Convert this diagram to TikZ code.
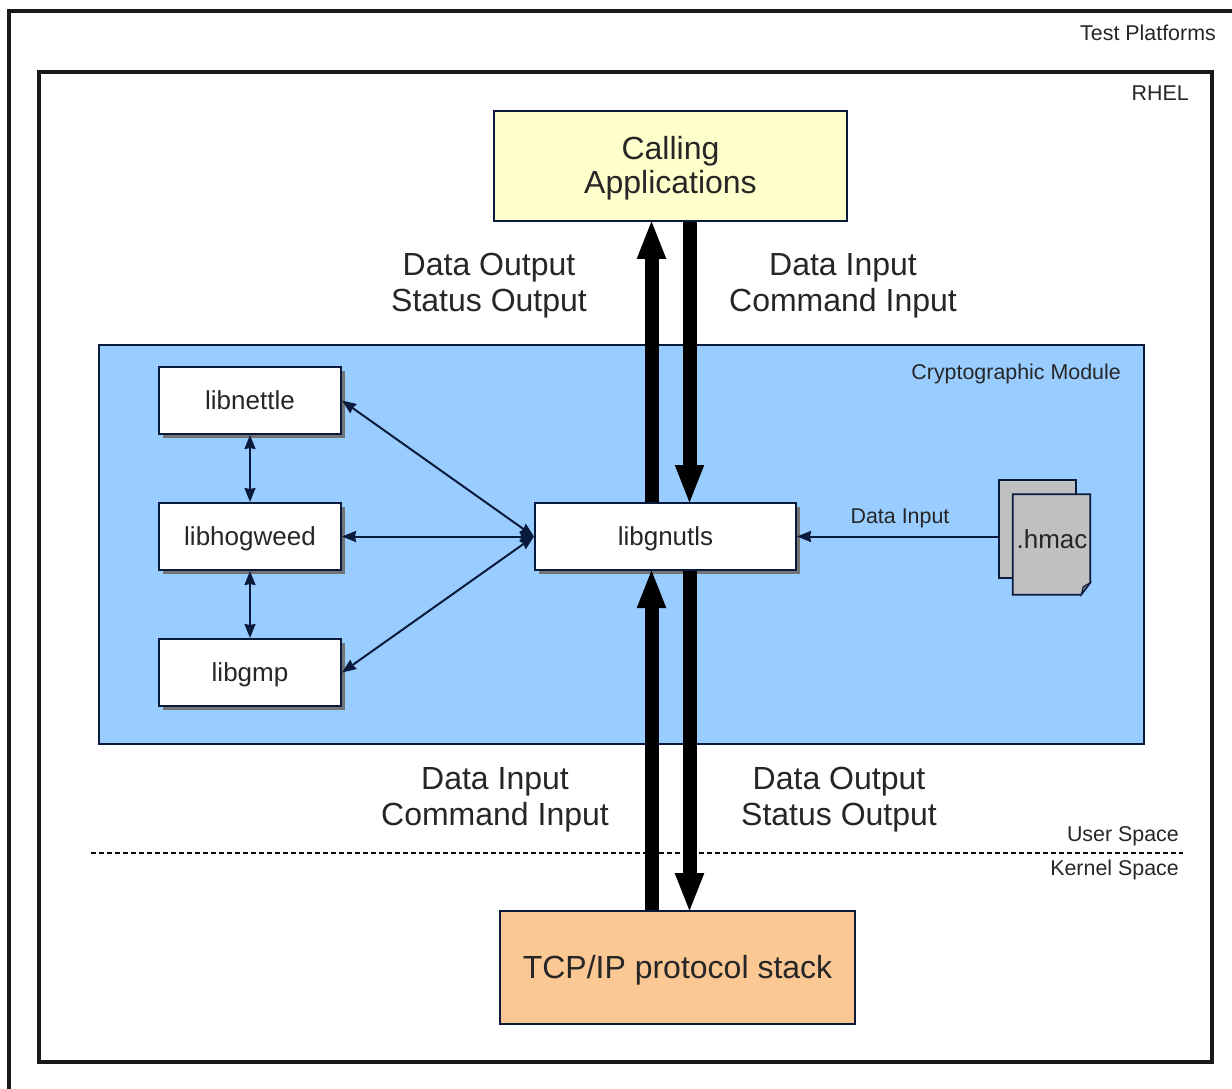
\documentclass[tikz,border=0pt]{standalone}
\usepackage{fontspec}
\setmainfont{Liberation Sans}
\usetikzlibrary{arrows.meta,shadows,calc}
\definecolor{inktext}{HTML}{262626}
\definecolor{navyline}{HTML}{0A1A3C}
\definecolor{modblue}{HTML}{99CCFF}
\definecolor{callyellow}{HTML}{FFFFCC}
\definecolor{tcporange}{HTML}{FBC792}
\definecolor{pagegray}{HTML}{C0C0C0}
\tikzset{
  frame/.style={draw=black!90,line width=4.5pt},
  bigtext/.style={font=\fontsize{32}{36}\selectfont,text=inktext,align=center,inner sep=0pt},
  smalltext/.style={font=\fontsize{21.4}{25}\selectfont,text=inktext,inner sep=0pt},
  libbox/.style={draw=navyline,line width=2pt,fill=white,inner sep=0pt,
    font=\fontsize{26}{30}\selectfont,text=inktext,minimum height=67pt,
    text height=23pt,text depth=5.5pt,
    drop shadow={shadow xshift=4pt,shadow yshift=-4pt,fill=black!55,opacity=1}},
  mainbox/.style={draw=navyline,line width=1.6pt,inner sep=0pt,align=center,
    font=\fontsize{32}{34}\selectfont,text=inktext},
  bigarrow/.style={line width=14pt,black,shorten >=-3pt,-{Triangle[length=40pt,width=26pt]}},
  thinarrow/.style={line width=2pt,navyline,{Stealth[length=14pt,width=11pt,inset=1pt]}-{Stealth[length=14pt,width=11pt,inset=1pt]}},
  onearrow/.style={line width=2pt,navyline,-{Stealth[length=14pt,width=11pt,inset=1pt]}},
  docpage/.style={draw=none,fill=none,inner sep=0pt,minimum width=77pt},
}
\begin{document}
\begin{tikzpicture}[x=1pt,y=-1pt]
\useasboundingbox (0,0) rectangle (1232,1089);
\fill[white] (0,0) rectangle (1232,1089);
% frames
\draw[frame] (1232,11) -| (9,1089);
\node[frame,fill=none,minimum width=1173pt,minimum height=990pt,inner sep=0pt,outer sep=0pt] (rhel) at (625.5,567) {};
\node[smalltext,anchor=east] (testplat) at (1216,33) {Test Platforms};
\node[smalltext,anchor=east] (rheltext) at (1189,93) {RHEL};
% module
\node[draw=navyline,line width=1.6pt,fill=modblue,minimum width=1045pt,minimum height=399pt,inner sep=0pt] (module) at (621.5,544.5) {};
\node[smalltext,anchor=east] (modtext) at (1121,374) {Cryptographic Module};
% main boxes
\node[mainbox,fill=callyellow,minimum width=353pt,minimum height=110pt] (calling) at (670.5,166) {\rule{0pt}{28pt}Calling\\Applications};
\node[mainbox,fill=tcporange,minimum width=355pt,minimum height=113pt] (tcp) at (677.5,967.5) {\rule{0pt}{29.5pt}TCP/IP protocol stack};
% libraries
\node[libbox,minimum width=182pt] (libnettle) at (250,400.5) {libnettle};
\node[libbox,minimum width=182pt] (libhogweed) at (250,536.5) {libhogweed};
\node[libbox,minimum width=182pt] (libgmp) at (250,672.5) {libgmp};
\node[libbox,minimum width=261pt] (libgnutls) at (665.5,536.5) {libgnutls};
% hmac files
\node[docpage,minimum height=98pt] (hmacback) at (1037.5,529) {};
\fill[pagegray,draw=navyline,line width=1.8pt] (hmacback.north west) rectangle (hmacback.south east);
\node[docpage,minimum height=100pt] (hmacfront) at (1051.5,544.5) {};
\fill[pagegray,draw=navyline,line width=1.8pt] (hmacfront.north west) -- (hmacfront.north east) -- ($(hmacfront.south east)+(0,-12)$) -- ($(hmacfront.south east)+(-9,0)$) -- (hmacfront.south west) -- cycle;
\fill[black!55,draw=navyline,line width=1pt] ($(hmacfront.south east)+(0,-12)$) -- ($(hmacfront.south east)+(-9,0)$) -- ($(hmacfront.south east)+(-7,-8)$) -- cycle;
\node[font=\fontsize{26}{30}\selectfont,text=inktext,inner sep=0pt] (hmactext) at (1052,539) {.hmac};
% big arrows
\coordinate (upx) at (651.5,0);
\coordinate (downx) at (689.5,0);
\draw[bigarrow] (libgnutls.north -| upx) -- (calling.south -| upx);
\draw[bigarrow] (calling.south -| downx) -- (libgnutls.north -| downx);
\draw[bigarrow] (tcp.north -| upx) -- (libgnutls.south -| upx);
\draw[bigarrow] (libgnutls.south -| downx) -- (tcp.north -| downx);
% thin arrows
\draw[thinarrow] (libnettle.east) -- (libgnutls.west);
\draw[thinarrow] (libhogweed.east) -- (libgnutls.west);
\draw[thinarrow] (libgmp.east) -- (libgnutls.west);
\draw[thinarrow] (libnettle.south) -- (libhogweed.north);
\draw[thinarrow] (libhogweed.south) -- (libgmp.north);
\draw[onearrow] (hmacback.west |- libgnutls.east) -- (libgnutls.east);
\node[smalltext] (hmaclabel) at (900,518) {Data Input};
% labels
\node[bigtext] (toleft) at (489,285.5) {Data Output\\Status Output};
\node[bigtext] (toright) at (843,285.5) {Data Input\\Command Input};
\node[bigtext] (botleft) at (495,799.5) {Data Input\\Command Input};
\node[bigtext] (botright) at (839,799.5) {Data Output\\Status Output};
% spaces
\coordinate (dashl) at (91,853);
\coordinate (dashr) at (1183,853);
\draw[line width=1.5pt,black,dash pattern=on 5pt off 3pt] (dashl) -- (dashr);
\node[smalltext,anchor=east] (userspace) at (1179,836) {User Space};
\node[smalltext,anchor=east] (kernelspace) at (1179,870) {Kernel Space};
\end{tikzpicture}
\end{document}
